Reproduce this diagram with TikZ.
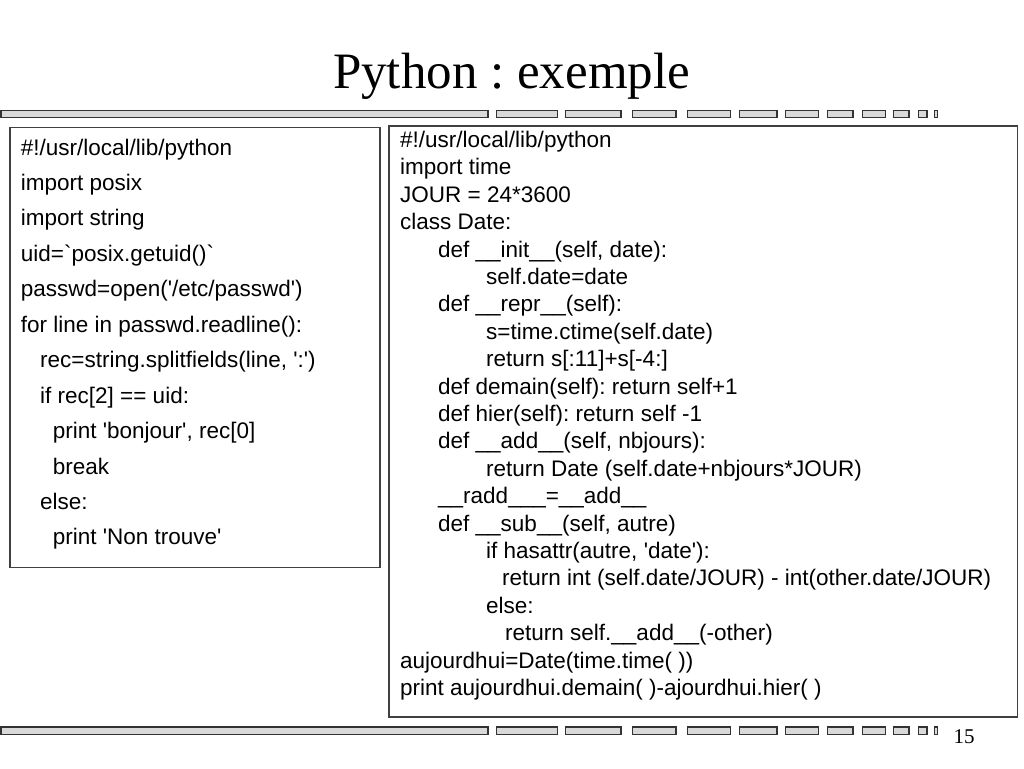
\documentclass[tikz,border=0pt]{standalone}
\usepackage{fontspec}
\setmainfont{Liberation Serif}
\newfontfamily\codefont{Liberation Sans}[Ligatures=TeXOff]
\frenchspacing
\tikzset{
  bar/.style={fill=gray!30,draw=black!80,line width=1.3pt},
  codebox/.style={draw=black!75,line width=1.2pt},
  codeline/.style={anchor=base west,inner sep=0pt,font=\codefont\fontsize{22.5}{27}\selectfont}
}
\begin{document}
\begin{tikzpicture}[x=1pt,y=-1pt]
\useasboundingbox[fill=white] (0,0) rectangle (1024,768);
\node[anchor=base,inner sep=0pt,font=\fontsize{51}{60}\selectfont] (title) at (511.5,88) {Python : exemple};
\foreach \a/\b in {1/488,496.7/557.4,565.8/620.9,632.7/676,687.8/730.3,739.8/777,785.8/818.2,827.6/853,862.8/885.2,893.5/908.9,918.6/927,934.3/937.5} {
  \draw[bar] (\a,110.5) rectangle (\b,117.5);
  \draw[bar] (\a,727) rectangle (\b,734.5);
}
\draw[codebox] (10,127.3) rectangle (380,567.3);
\foreach \i/\t [count=\n] in {0/{\#!/usr/local/lib/python},0/{import posix},0/{import string},0/{uid=`posix.getuid()`},0/{passwd=open('/etc/passwd')},0/{for line in passwd.readline():},19.3/{rec=string.splitfields(line, ':')},19.3/{if rec[2] == uid:},32/{print 'bonjour', rec[0]},32/{break},19.3/{else:},32/{print 'Non trouve'}}
  \node[codeline] (left\n) at (20.7+\i,155+35.45*\n-35.45) {\t};
\draw[codebox] (389,126) rectangle (1017.5,717);
\foreach \i/\t [count=\n] in {0/{\#!/usr/local/lib/python},0/{import time},0/{JOUR = 24*3600},0/{class Date:},38/{def \_\_init\_\_(self, date):},86/{self.date=date},38/{def \_\_repr\_\_(self):},86/{s=time.ctime(self.date)},86/{return s[:11]+s[-4:]},38/{def demain(self): return self+1},38/{def hier(self): return self -1},38/{def \_\_add\_\_(self, nbjours):},86/{return Date (self.date+nbjours*JOUR)},38/{\_\_radd\_\_\_=\_\_add\_\_},38/{def \_\_sub\_\_(self, autre)},86/{if hasattr(autre, 'date'):},102/{return int (self.date/JOUR) - int(other.date/JOUR)},86/{else:},105/{return self.\_\_add\_\_(-other)},0/{aujourdhui=Date(time.time( ))},0/{print aujourdhui.demain( )-ajourdhui.hier( )}}
  \node[codeline] (right\n) at (400+\i,147.5+27.4*\n-27.4) {\t};
\node[anchor=base,inner sep=0pt,font=\fontsize{21}{24}\selectfont] (pagenum) at (964,743) {15};
\end{tikzpicture}
\end{document}
